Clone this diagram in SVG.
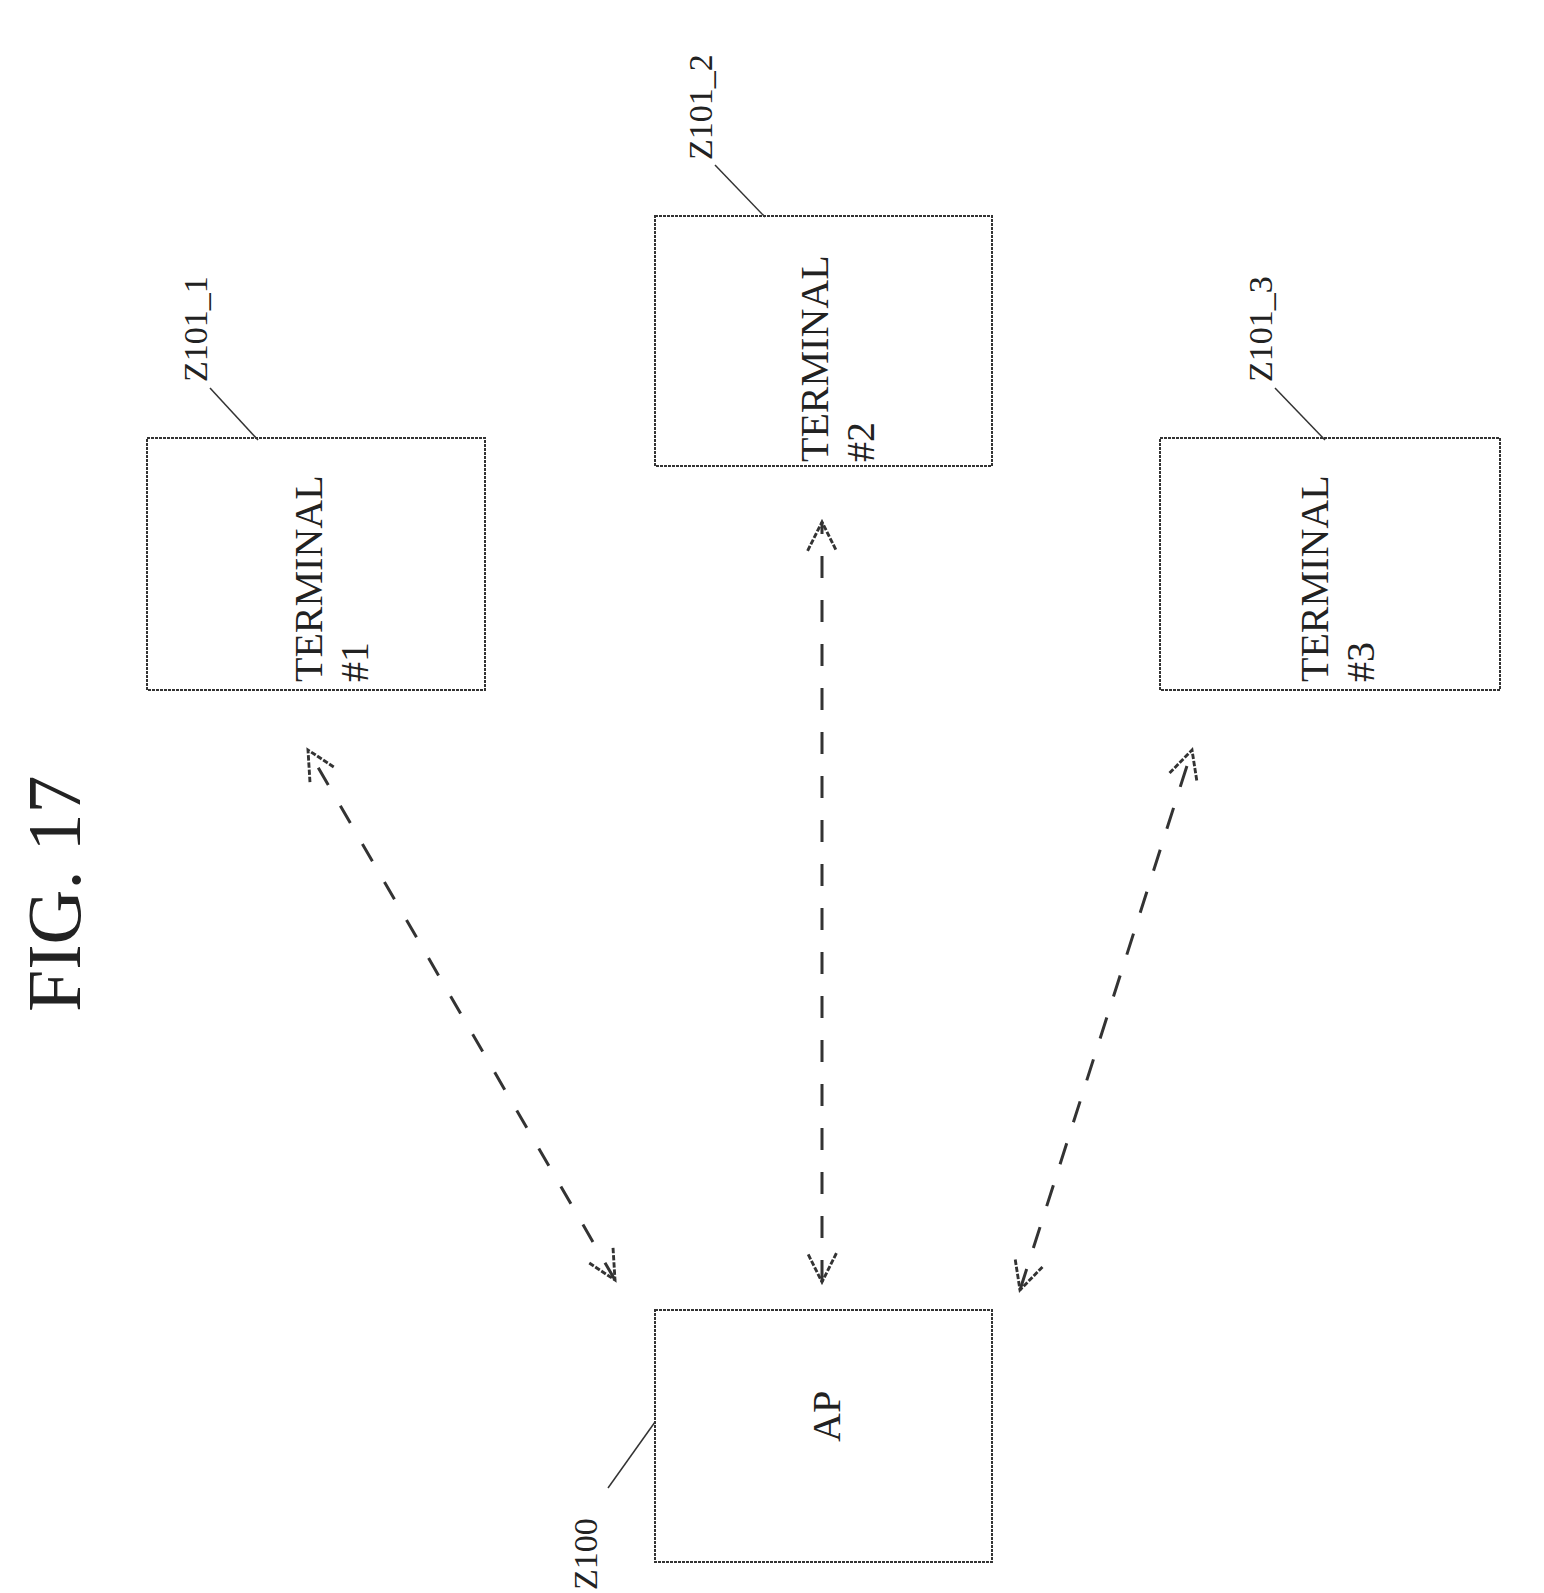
<svg xmlns="http://www.w3.org/2000/svg" width="1544" height="1593" viewBox="0 0 1544 1593">
<style>
.box{fill:#fff;stroke:#333;stroke-width:2;stroke-dasharray:3 1}
.t{font-family:"Liberation Serif",serif;font-size:40px;fill:#222}
.lbl{font-family:"Liberation Serif",serif;font-size:34px;fill:#222}
.lead{stroke:#333;stroke-width:1.5;fill:none}
.con{stroke:#333;stroke-width:3;fill:none;stroke-dasharray:22 22;marker-start:url(#ah);marker-end:url(#ah)}
</style>
<defs>
<marker id="ah" viewBox="0 0 20 20" refX="18" refY="10" markerWidth="36" markerHeight="36" orient="auto-start-reverse" markerUnits="userSpaceOnUse">
<path d="M2,2 L18,10 L2,18" fill="none" stroke="#333" stroke-width="1.6" stroke-dasharray="3 1"/>
</marker>
</defs>
<rect width="1544" height="1593" fill="#fff"/>
<text class="t" style="font-size:76px" transform="translate(80,1012) rotate(-90)">FIG. 17</text>
<g id="connectors">
<line class="con" x1="615" y1="1280" x2="308" y2="750" style="stroke-dasharray:20 24"/>
<line class="con" x1="822" y1="1282" x2="822" y2="522"/>
<line class="con" x1="1020" y1="1290" x2="1192" y2="750"/>
</g>
<g id="terminal1">
<rect class="box" x="147" y="438" width="338" height="252"/>
<text class="t" transform="translate(322,682) rotate(-90)">TERMINAL</text>
<text class="t" transform="translate(368,682) rotate(-90)">#1</text>
<text class="lbl" transform="translate(207,382) rotate(-90)">Z101_1</text>
<path class="lead" d="M210,388 L258,440"/>
</g>
<g id="terminal2">
<rect class="box" x="655" y="216" width="337" height="250"/>
<text class="t" transform="translate(828,462) rotate(-90)">TERMINAL</text>
<text class="t" transform="translate(874,462) rotate(-90)">#2</text>
<text class="lbl" transform="translate(712,160) rotate(-90)">Z101_2</text>
<path class="lead" d="M715,165 L765,217"/>
</g>
<g id="terminal3">
<rect class="box" x="1160" y="438" width="340" height="252"/>
<text class="t" transform="translate(1328,682) rotate(-90)">TERMINAL</text>
<text class="t" transform="translate(1374,682) rotate(-90)">#3</text>
<text class="lbl" transform="translate(1272,382) rotate(-90)">Z101_3</text>
<path class="lead" d="M1275,388 L1325,440"/>
</g>
<g id="ap">
<rect class="box" x="655" y="1310" width="337" height="252"/>
<text class="t" transform="translate(840,1442) rotate(-90)">AP</text>
<text class="lbl" transform="translate(597,1590) rotate(-90)">Z100</text>
<path class="lead" d="M608,1488 L655,1422"/>
</g>
</svg>
